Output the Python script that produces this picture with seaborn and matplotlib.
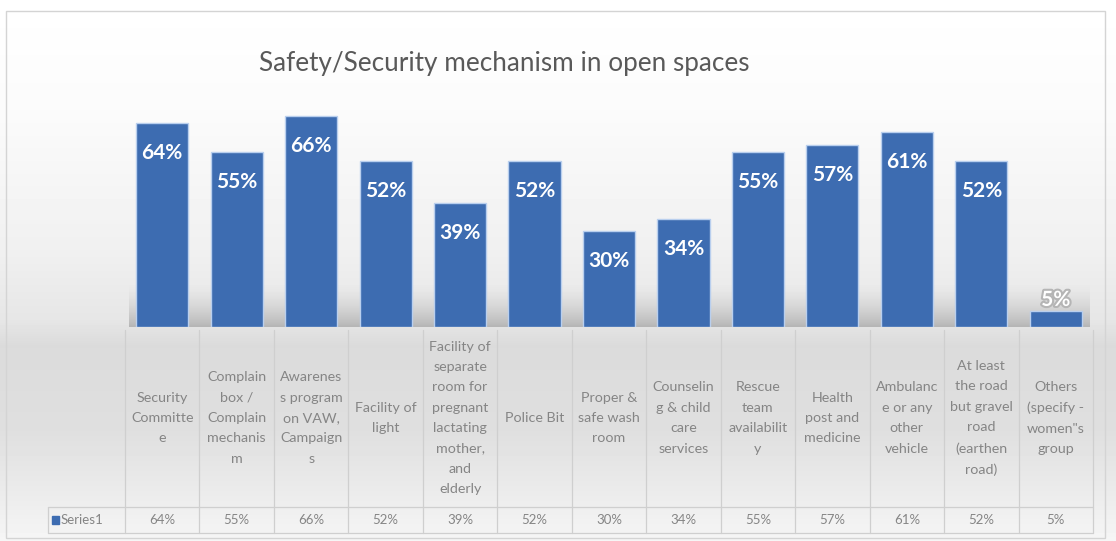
import numpy as np
import matplotlib
matplotlib.use("Agg")
import matplotlib.pyplot as plt
import matplotlib.patches as patches
import matplotlib.patheffects as pe
from matplotlib import transforms
import seaborn as sns

# chart data
categories = [
    "Security\nCommitte\ne",
    "Complain\nbox /\nComplain\nmechanis\nm",
    "Awarenes\ns program\non VAW,\nCampaign\ns",
    "Facility of\nlight",
    "Facility of\nseparate\nroom for\npregnant\nlactating\nmother,\nand\nelderly",
    "Police Bit",
    "Proper &\nsafe wash\nroom",
    "Counselin\ng & child\ncare\nservices",
    "Rescue\nteam\navailabilit\ny",
    "Health\npost and\nmedicine",
    "Ambulanc\ne or any\nother\nvehicle",
    "At least\nthe road\nbut gravel\nroad\n(earthen\nroad)",
    "Others\n(specify -\nwomen\"s\ngroup",
]
values = [64, 55, 66, 52, 39, 52, 30, 34, 55, 57, 61, 52, 5]
series_name = "Series1"
title = "Safety/Security mechanism in open spaces"

W, H = 1116, 541
bar_color = "#3d6cb1"
text_gray = "#595959"
label_gray = "#858585"
line_gray = "#cfcfcf"

sns.set_theme(style="white")
plt.rcParams["font.family"] = ["Lato", "DejaVu Sans"]

fig = plt.figure(figsize=(W / 100, H / 100), dpi=100)

# soft grey background gradient like the office chart style
bg = fig.add_axes([0, 0, 1, 1], zorder=-5)
rows = np.arange(H)
shade = np.interp(rows, [0, 110, 250, 320, 345, 430, 505, 541],
                  [255, 251, 240, 230, 219, 223, 238, 246]) / 255.0
img = np.repeat(shade[:, None], 10, axis=1)
bg.imshow(img, cmap="gray", vmin=0, vmax=1, aspect="auto", extent=[0, 1, 0, 1])
bg.set_axis_off()

ax = fig.add_axes([125 / W, 1 - 327 / H, 968 / W, 223.3 / H])
ax.set_facecolor("none")

# blurred shadow band at the base of the bars
band = np.linspace(0, 1, 50)[:, None] ** 1.6
rgba = np.zeros((50, 1, 4))
rgba[..., :3] = 0.5
rgba[..., 3] = 0.45 * band
ax.imshow(rgba, aspect="auto", extent=[-0.45, len(values) - 0.55, 0, 14],
          zorder=0.5)

df_x = list(range(len(values)))
sns.barplot(x=df_x, y=values, color=bar_color, width=0.70, saturation=1,
            edgecolor="#b9cfee", linewidth=1.0, ax=ax, zorder=2)
ax.set_xlim(-0.5, len(values) - 0.5)
ax.set_ylim(0, 70)
ax.set_xticks([])
ax.set_yticks([])
ax.set_xlabel("")
ax.set_ylabel("")
sns.despine(ax=ax, left=True, bottom=True)

# data labels
for i, v in enumerate(values):
    if v >= 10:
        ax.text(i, v - 9.4, f"{v}%", ha="center", va="center", color="white",
                fontsize=15, fontweight="bold", zorder=3)
    else:
        ax.text(i, v + 3.5, f"{v}%", ha="center", va="center", color="white",
                fontsize=15, fontweight="bold", zorder=3,
                path_effects=[pe.withStroke(linewidth=3, foreground="#b5b5b5")])

# category labels and data table
tr = transforms.blended_transform_factory(ax.transData, fig.transFigure)
for i, lab in enumerate(categories):
    ax.text(i, 1 - 418 / H, lab, transform=tr, ha="center", va="center",
            fontsize=10.3, color=label_gray, linespacing=1.84, clip_on=False)
    ax.text(i, 1 - 520 / H, f"{values[i]}%", transform=tr, ha="center",
            va="center", fontsize=9.5, color=label_gray, clip_on=False)

for b in np.arange(-0.5, len(values), 1.0):
    ax.plot([b, b], [1 - 330 / H, 1 - 533 / H], transform=tr, color=line_gray,
            lw=0.9, clip_on=False)
for yy in [507, 533]:
    fig.add_artist(plt.Line2D([48 / W, 1093 / W], [1 - yy / H, 1 - yy / H],
                              color=line_gray, lw=0.9))
fig.add_artist(plt.Line2D([48 / W, 48 / W], [1 - 507 / H, 1 - 533 / H],
                          color=line_gray, lw=0.9))

fig.patches.append(patches.Rectangle((52 / W, 1 - 524 / H), 7 / W, 8 / H,
                                     transform=fig.transFigure,
                                     color=bar_color))
fig.text(61 / W, 1 - 520 / H, series_name, ha="left", va="center",
         fontsize=9.5, color=label_gray)

# title
fig.text(504 / W, 1 - 64 / H, title, ha="center", va="center",
         fontsize=18.8, color=text_gray)

# chart border
fig.patches.append(patches.Rectangle((6 / W, 3 / H), 1099 / W, 527 / H,
                                     transform=fig.transFigure, fill=False,
                                     edgecolor="#d4d4d4", lw=1))

fig.savefig("out.png", dpi=100)
